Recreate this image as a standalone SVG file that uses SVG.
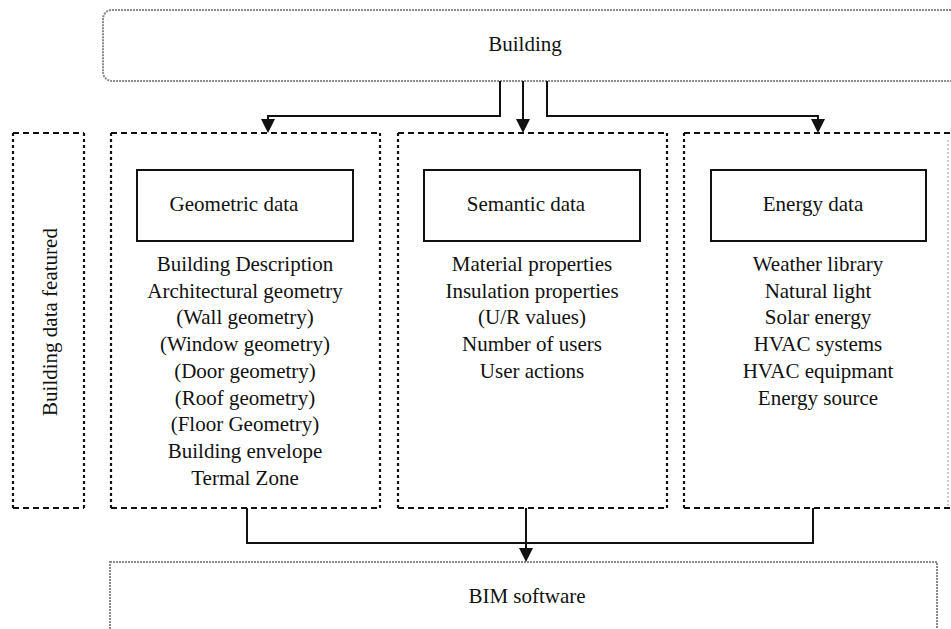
<svg xmlns="http://www.w3.org/2000/svg" width="951" height="629" viewBox="0 0 951 629">
<style>
text{font-family:"Liberation Serif","Times New Roman",serif;font-size:21px;fill:#111;text-anchor:middle}
.soft{fill:none;stroke:#8a8a8a;stroke-width:2;stroke-dasharray:2,1}
.dh{fill:none;stroke:#111;stroke-width:2.2;stroke-dasharray:6,4}
.dv{fill:none;stroke:#111;stroke-width:2.2;stroke-dasharray:3,3}
.box{fill:none;stroke:#111;stroke-width:2}
.conn{fill:none;stroke:#111;stroke-width:2}
</style>
<defs>
<marker id="ah" markerWidth="14" markerHeight="14" refX="6" refY="12" orient="auto-start-reverse" markerUnits="userSpaceOnUse" viewBox="0 0 12 14">
<path d="M0,0 L12,0 L6,14 Z" fill="#111" transform="rotate(-90 6 6)"/>
</marker>
<marker id="tri" markerWidth="14" markerHeight="16" refX="14" refY="7" orient="auto" markerUnits="userSpaceOnUse" viewBox="0 0 14 14">
<path d="M0,0 L14,7 L0,14 Z" fill="#111"/>
</marker>
</defs>

<g id="building">
<rect class="soft" x="103" y="10" width="870" height="71" rx="9"/>
<text x="525" y="51">Building</text>
</g>

<g id="label-featured">
<path class="dh" d="M13,133 H84 M13,508 H84"/>
<path class="dv" d="M13,133 V508 M84,133 V508"/>
<text transform="translate(57,322) rotate(-90)">Building data featured</text>
</g>

<g id="geometric">
<path class="dh" d="M111,133 H380 M111,508 H380"/>
<path class="dv" d="M111,133 V508 M380,133 V508"/>
<rect class="box" x="137" y="170" width="216" height="71"/>
<text x="234" y="211">Geometric data</text>
<text x="245" y="271">Building Description</text>
<text x="245" y="297.5">Architectural geometry</text>
<text x="245" y="324">(Wall geometry)</text>
<text x="245" y="351">(Window geometry)</text>
<text x="245" y="378">(Door geometry)</text>
<text x="245" y="404.5">(Roof geometry)</text>
<text x="245" y="431">(Floor Geometry)</text>
<text x="245" y="458">Building envelope</text>
<text x="245" y="485">Termal Zone</text>
</g>

<g id="semantic">
<path class="dh" d="M398,133 H667 M398,508 H667"/>
<path class="dv" d="M398,133 V508 M667,133 V508"/>
<rect class="box" x="424" y="170" width="216" height="71"/>
<text x="526" y="211">Semantic data</text>
<text x="532" y="271">Material properties</text>
<text x="532" y="297.5">Insulation properties</text>
<text x="532" y="324">(U/R values)</text>
<text x="532" y="351">Number of users</text>
<text x="532" y="378">User actions</text>
</g>

<g id="energy">
<path class="dh" d="M684,133 H951 M684,508 H951"/>
<path class="dv" d="M684,133 V508"/>
<path fill="none" stroke="#bbb" stroke-width="1.5" stroke-dasharray="2,2" d="M948,140 V508"/>
<rect class="box" x="711" y="170" width="215" height="71"/>
<text x="813" y="211">Energy data</text>
<text x="818" y="271">Weather library</text>
<text x="818" y="297.5">Natural light</text>
<text x="818" y="324">Solar energy</text>
<text x="818" y="351">HVAC systems</text>
<text x="818" y="378">HVAC equipmant</text>
<text x="818" y="404.5">Energy source</text>
</g>

<g id="bim">
<rect class="soft" x="110" y="562" width="827" height="90"/>
<text x="527" y="603">BIM software</text>
</g>

<g id="connectors">
<path class="conn" d="M500,81 V116 H268 V121" />
<path d="M261,119 L275,119 L268,133 Z" fill="#111"/>
<path class="conn" d="M523,81 V121"/>
<path d="M516,119 L530,119 L523,133 Z" fill="#111"/>
<path class="conn" d="M547,81 V116 H818 V121"/>
<path d="M811,119 L825,119 L818,133 Z" fill="#111"/>
<path class="conn" d="M247,508 V543 H813 V508"/>
<path class="conn" d="M526,508 V550"/>
<path d="M519,548 L533,548 L526,562 Z" fill="#111"/>
</g>
</svg>
